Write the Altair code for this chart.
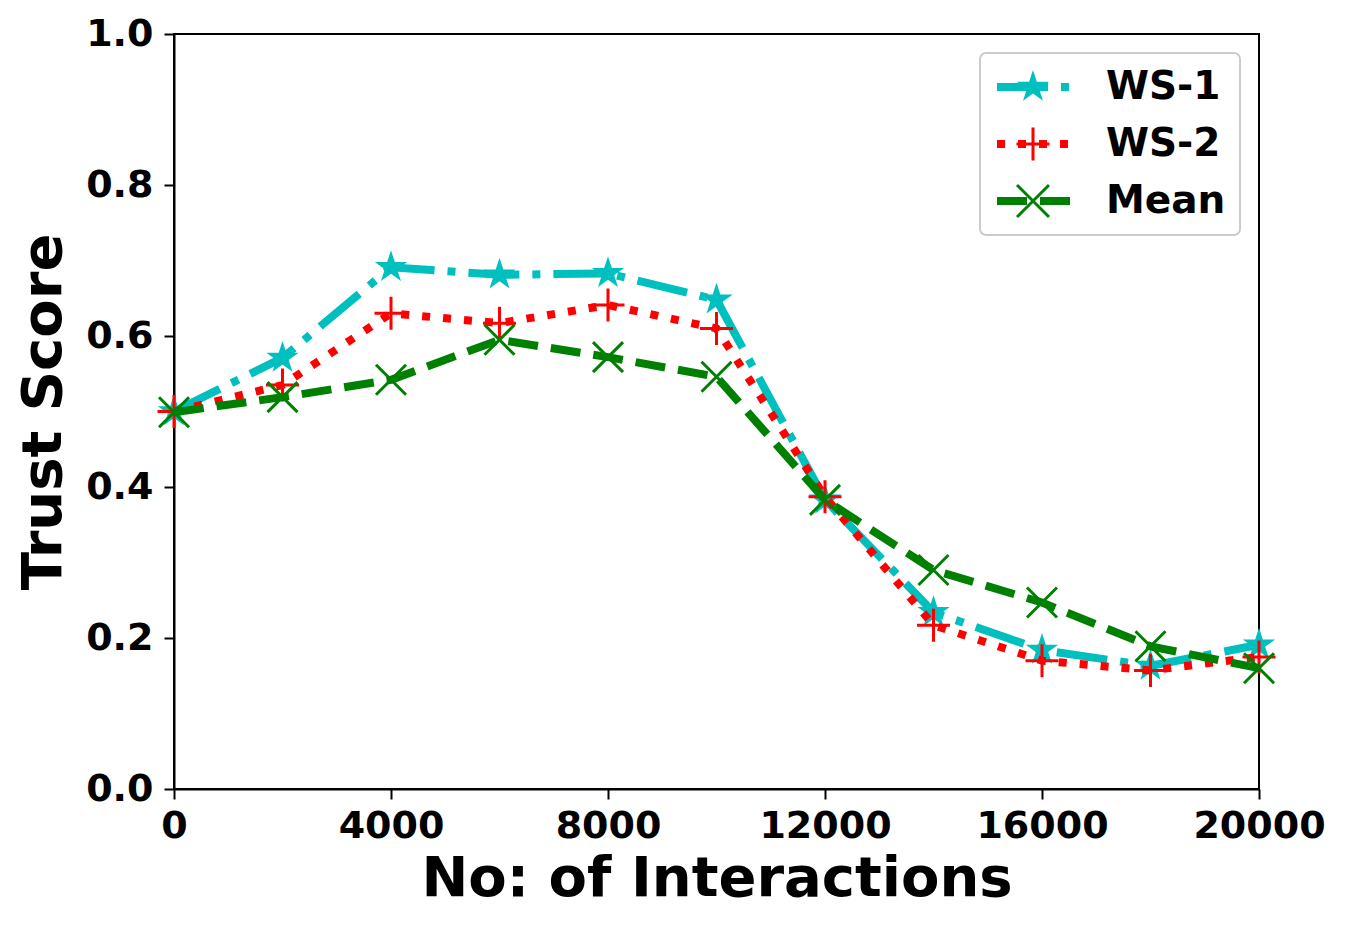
import math
import altair as alt
import pandas as pd

# ---------------- data ----------------
interactions = [0, 2000, 4000, 6000, 8000, 10000, 12000, 14000, 16000, 18000, 20000]
ws1 = [0.500, 0.571, 0.691, 0.681, 0.683, 0.648, 0.383, 0.234, 0.184, 0.163, 0.191]
ws2 = [0.500, 0.535, 0.630, 0.617, 0.641, 0.610, 0.387, 0.217, 0.170, 0.157, 0.175]
mean = [0.499, 0.519, 0.542, 0.595, 0.572, 0.546, 0.383, 0.290, 0.247, 0.189, 0.160]

series_names = ["WS-1", "WS-2", "Mean"]
series_values = [ws1, ws2, mean]
series_colors = ["#00BFBF", "#FF0000", "#008000"]
series_dashes = [[51, 13, 8, 13], [8, 13], [30, 13]]

x_ticks = [0, 4000, 8000, 12000, 16000, 20000]
y_ticks = [0.0, 0.2, 0.4, 0.6, 0.8, 1.0]

rows = []
for name, vals in zip(series_names, series_values):
    for xv, yv in zip(interactions, vals):
        rows.append({"x": xv, "y": yv, "series": name})
df = pd.DataFrame(rows)


# ---------------- marker / legend symbol shapes ----------------
def poly(points):
    area = 0.0
    n = len(points)
    for i in range(n):
        x0, y0 = points[i]
        x1, y1 = points[(i + 1) % n]
        area += x0 * y1 - x1 * y0
    if area < 0:
        points = list(reversed(points))
    s = "M" + "L".join(f"{px:.4f},{py:.4f}" for px, py in points) + "Z"
    return s


def star_points(cx, cy, r_out, r_in):
    pts = []
    for k in range(10):
        ang = math.radians(-90 + 36 * k)
        r = r_out if k % 2 == 0 else r_in
        pts.append((cx + r * math.cos(ang), cy + r * math.sin(ang)))
    return pts


def rect(x0, x1, hy):
    return poly([(x0, -hy), (x1, -hy), (x1, hy), (x0, hy)])


def bar(ax, ay, bx, by, t):
    dx, dy = bx - ax, by - ay
    L = math.hypot(dx, dy)
    nx, ny = -dy / L * t / 2, dx / L * t / 2
    return poly([(ax + nx, ay + ny), (bx + nx, by + ny), (bx - nx, by - ny), (ax - nx, ay - ny)])


# chart markers (unit paths, size = span^2)
star_path = poly(star_points(0, 0, 1, 0.382))
plus_path = "M-1,0H1M0,-1V1"
x_path = "M-1,-1L1,1M-1,1L1,-1"

# legend symbols: 1 unit = 20 px (symbol size 1600)
u = 20.0
ht = 4 / u
ws1_leg = (rect(-37.5 / u, 13.5 / u, ht) + rect(26.5 / u, 34.5 / u, ht)
           + poly(star_points(-1.5 / u, 0, 17 / u, 17 * 0.382 / u)))
ws2_leg = "".join(rect(a / u, b / u, ht) for a, b in [(-37.5, -29.5), (-16.5, -8.5), (4.5, 12.5), (25.5, 33.5)])
ws2_leg += bar(-18 / u, 0, 15 / u, 0, 3 / u) + bar(-1.5 / u, -16.5 / u, -1.5 / u, 16.5 / u, 3 / u)
mean_leg = rect(-37.5 / u, -7.5 / u, ht) + rect(5.5 / u, 35.5 / u, ht)
mean_leg += bar(-17.5 / u, -16 / u, 14.5 / u, 16 / u, 3 / u) + bar(-17.5 / u, 16 / u, 14.5 / u, -16 / u, 3 / u)
legend_paths = [ws1_leg, ws2_leg, mean_leg]

# ---------------- chart ----------------
x_enc = alt.X("x:Q", scale=alt.Scale(domain=[0, 20000], nice=False, zero=False),
              axis=alt.Axis(values=x_ticks, format="d", title="No: of Interactions",
                            titlePadding=6, labelPadding=8))
y_enc = alt.Y("y:Q", scale=alt.Scale(domain=[0, 1], nice=False),
              axis=alt.Axis(values=y_ticks, format=".1f", title="Trust Score",
                            titlePadding=13, labelPadding=11))

base = alt.Chart(df)
layers = []
marker_specs = [
    dict(shape=star_path, size=1156, filled=True, strokeWidth=0),
    dict(shape=plus_path, size=1089, filled=False, strokeWidth=3),
    dict(shape=x_path, size=900, filled=False, strokeWidth=3),
]
for name, color, dash, mspec in zip(series_names, series_colors, series_dashes, marker_specs):
    sub = base.transform_filter(alt.datum.series == name)
    layers.append(sub.mark_line(color=color, strokeWidth=8, strokeDash=dash).encode(x=x_enc, y=y_enc))
    layers.append(sub.mark_point(color=color, opacity=1, **mspec).encode(x=x_enc, y=y_enc))

legend_layer = base.transform_filter("datum.x < 0").mark_point(
    filled=True, opacity=1, size=1600, strokeWidth=0
).encode(
    x=x_enc,
    y=y_enc,
    color=alt.Color("series:N", scale=alt.Scale(domain=series_names, range=series_colors),
                    legend=alt.Legend(title=None)),
    shape=alt.Shape("series:N", scale=alt.Scale(domain=series_names, range=legend_paths),
                    legend=alt.Legend(title=None)),
)
layers.append(legend_layer)

chart = alt.layer(*layers).properties(
    width=1085, height=755,
    padding={"left": 7, "top": 7, "right": 5, "bottom": 5},
    background="white",
).configure_view(
    stroke="black", strokeWidth=2
).configure_axis(
    grid=False,
    labelFont="DejaVu Sans", labelFontWeight="bold", labelFontSize=38, labelColor="black",
    titleFont="DejaVu Sans", titleFontWeight="bold", titleFontSize=56, titleColor="black",
    domainColor="black", domainWidth=2, tickColor="black", tickWidth=2, tickSize=10,
    labelFlush=False, labelOverlap=False,
).configure_legend(
    orient="top-right", offset=19, padding=14, rowPadding=17,
    symbolOffset=20.5, labelOffset=51.5, symbolSize=1600, symbolStrokeWidth=0,
    labelFont="DejaVu Sans", labelFontSize=39, labelFontWeight="bold", labelColor="black",
    labelLimit=400, strokeColor="#cccccc", strokeWidth=2, cornerRadius=6, fillColor="white",
)

chart.save("out.html", embed_options={"renderer": "svg", "actions": False})
